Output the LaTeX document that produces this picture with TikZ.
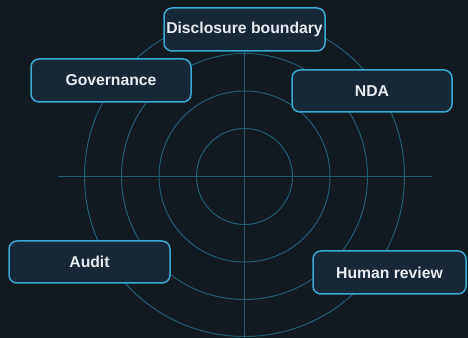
\documentclass[tikz,border=0pt]{standalone}
\usepackage{fontspec}
\setmainfont{Liberation Sans}
\definecolor{bgdark}{RGB}{17,25,33}
\definecolor{boxfill}{RGB}{22,40,56}
\definecolor{boxline}{RGB}{58,170,208}
\definecolor{ringline}{RGB}{32,92,116}
\definecolor{labeltext}{RGB}{230,236,242}
\tikzset{
  zone/.style={draw=boxline, fill=boxfill, line width=1.125pt, rounded corners=6pt,
    minimum width=120pt, minimum height=32.25pt, inner sep=0pt,
    text=labeltext, font=\bfseries\fontsize{11.8}{14}\selectfont},
  ring/.style={draw=ringline, line width=0.75pt}
}
\begin{document}
\begin{tikzpicture}[x=0.75pt,y=0.75pt,yscale=-1,xscale=1]
%Shape: Background
\fill [bgdark] (0,0) rectangle (468,338);
\useasboundingbox (0,0) rectangle (468,338);

%Shape: Axes
\coordinate (hub) at (244.5,176.5);
\draw [ring] (57.5,176.5) -- (431.5,176.5);
\draw [ring] (244.5,16.5) -- (244.5,338);
%Shape: Rings
\foreach \r in {48,85.5,123,160}
  \draw [ring] (hub) circle [radius=\r];

% Text Node
\node [zone, minimum width=120.75pt] (disclosure) at (244.5,29.5) {Disclosure boundary};
% Text Node
\node [zone] (governance) at (111,80.5) {Governance};
% Text Node
\node [zone, minimum height=31.5pt] (nda) at (372,91) {NDA};
% Text Node
\node [zone, minimum width=120.75pt, minimum height=31.5pt] (audit) at (89.5,262) {Audit};
% Text Node
\node [zone, minimum width=114.75pt] (review) at (389.5,272.5) {Human review};

\end{tikzpicture}
\end{document}
